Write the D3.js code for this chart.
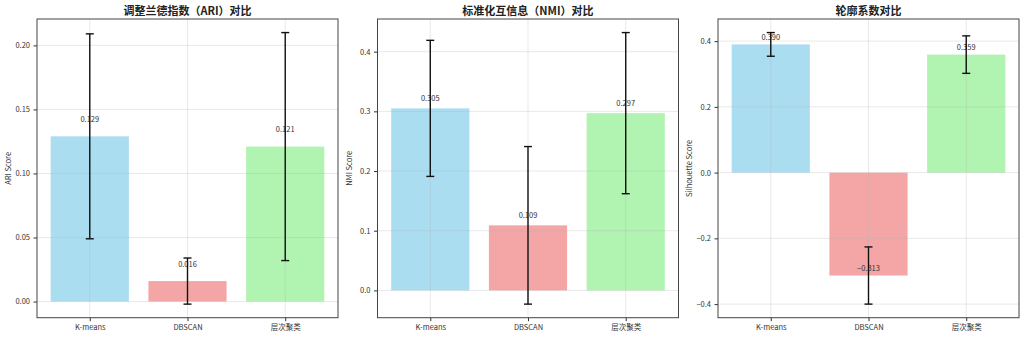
<!DOCTYPE html>
<html>
<head>
<meta charset="utf-8">
<script src="https://cdn.jsdelivr.net/npm/d3@7"></script>
<style>
  html, body { margin: 0; padding: 0; background: #fff; }
  svg { display: block; }
  text { font-family: "Noto Sans CJK SC", "DejaVu Sans", sans-serif; }
</style>
</head>
<body>
<svg id="chart" width="1024" height="337"></svg>
<script>
// Clustering methods compared in every panel
const categories = ["K-means", "DBSCAN", "层次聚类"];
const barColors = ["#87CEEB", "#F08080", "#90EE90"];

// Adjusted Rand Index: mean and standard deviation per method
const ariMean = [0.129, 0.016, 0.121];
const ariStd  = [0.080, 0.018, 0.089];

// Normalized Mutual Information
const nmiMean = [0.305, 0.109, 0.297];
const nmiStd  = [0.114, 0.132, 0.135];

// Silhouette coefficient
const silMean = [0.390, -0.313, 0.359];
const silStd  = [0.036, 0.087, 0.057];

// Y tick labels per panel
const ariTicks = [0.00, 0.05, 0.10, 0.15, 0.20];
const nmiTicks = [0.0, 0.1, 0.2, 0.3, 0.4];
const silTicks = [-0.4, -0.2, 0.0, 0.2, 0.4];

const panels = [
  { title: "调整兰德指数（ARI）对比", ylabel: "ARI Score", mean: ariMean, std: ariStd, ticks: ariTicks, fmt: ".2f", left: 37 },
  { title: "标准化互信息（NMI）对比", ylabel: "NMI Score", mean: nmiMean, std: nmiStd, ticks: nmiTicks, fmt: ".1f", left: 377.5 },
  { title: "轮廓系数对比", ylabel: "Silhouette Score", mean: silMean, std: silStd, ticks: silTicks, fmt: ".1f", left: 718 }
];

const svg = d3.select("#chart");
const panelW = 301, plotTop = 19, plotBottom = 317.7;
const minus = s => s.replace("-", "−");

panels.forEach(p => {
  const g = svg.append("g").attr("transform", `translate(${p.left},0)`);

  // x: categories at 0,1,2 with bars 0.8 wide and 5% margins
  const x = d3.scaleLinear().domain([-0.54, 2.54]).range([0, panelW]);

  // y: data extent (bars and error bars) padded by 5%
  const lo = d3.min(p.mean.map((m, i) => Math.min(0, m - p.std[i])));
  const hi = d3.max(p.mean.map((m, i) => Math.max(0, m + p.std[i])));
  const pad = (hi - lo) * 0.05;
  const y = d3.scaleLinear().domain([lo - pad, hi + pad]).range([plotBottom, plotTop]);

  const tickFmt = v => minus(d3.format(p.fmt)(v));

  // bars
  g.selectAll("rect.bar").data(p.mean).join("rect")
    .attr("class", "bar")
    .attr("x", (d, i) => x(i - 0.4))
    .attr("width", x(0.8) - x(0))
    .attr("y", d => y(Math.max(0, d)))
    .attr("height", d => Math.abs(y(d) - y(0)))
    .attr("fill", (d, i) => barColors[i])
    .attr("fill-opacity", 0.7);

  // grid
  const grid = g.append("g").attr("stroke", "#b0b0b0").attr("stroke-opacity", 0.35).attr("stroke-width", 0.8);
  grid.selectAll("line.h").data(p.ticks).join("line")
    .attr("class", "h")
    .attr("x1", 0).attr("x2", panelW)
    .attr("y1", d => y(d)).attr("y2", d => y(d));
  grid.selectAll("line.v").data(categories).join("line")
    .attr("class", "v")
    .attr("x1", (d, i) => x(i)).attr("x2", (d, i) => x(i))
    .attr("y1", plotTop).attr("y2", plotBottom);

  // value labels just above each bar's value
  g.selectAll("text.val").data(p.mean).join("text")
    .attr("class", "val")
    .attr("x", (d, i) => x(i))
    .attr("y", d => y(d + 0.01) - 1.5)
    .attr("text-anchor", "middle")
    .attr("font-size", 7.5)
    .attr("fill", "#333")
    .text(d => minus(d3.format(".3f")(d)));

  // error bars
  const eb = g.append("g").attr("stroke", "#111").attr("stroke-width", 1.4);
  p.mean.forEach((m, i) => {
    const cx = x(i), y1 = y(m - p.std[i]), y2 = y(m + p.std[i]);
    eb.append("line").attr("x1", cx).attr("x2", cx).attr("y1", y1).attr("y2", y2);
    eb.append("line").attr("x1", cx - 4).attr("x2", cx + 4).attr("y1", y1).attr("y2", y1);
    eb.append("line").attr("x1", cx - 4).attr("x2", cx + 4).attr("y1", y2).attr("y2", y2);
  });

  // axes
  const yAxis = d3.axisLeft(y).tickValues(p.ticks).tickFormat(tickFmt).tickSize(3.5).tickPadding(3.5);
  const ya = g.append("g").call(yAxis);
  ya.select(".domain").remove();
  ya.selectAll("line").attr("stroke", "#333");
  ya.selectAll("text").attr("font-size", 7.5).attr("fill", "#333");

  const xAxis = d3.axisBottom(x).tickValues([0, 1, 2]).tickFormat(i => categories[i]).tickSize(3.5).tickPadding(3.5);
  const xa = g.append("g").attr("transform", `translate(0,${plotBottom})`).call(xAxis);
  xa.select(".domain").remove();
  xa.selectAll("line").attr("stroke", "#333");
  xa.selectAll("text").attr("font-size", 7.5).attr("fill", "#333");

  // frame
  g.append("rect").attr("x", 0).attr("y", plotTop).attr("width", panelW).attr("height", plotBottom - plotTop)
    .attr("fill", "none").attr("stroke", "#444").attr("stroke-width", 1);

  // title
  g.append("text").attr("x", panelW / 2).attr("y", 15)
    .attr("text-anchor", "middle").attr("font-size", 11).attr("font-weight", 600).attr("fill", "#222")
    .text(p.title);

  // y label
  g.append("text")
    .attr("transform", `translate(-26,${(plotTop + plotBottom) / 2}) rotate(-90)`)
    .attr("text-anchor", "middle").attr("font-size", 7.5).attr("fill", "#333")
    .text(p.ylabel);
});
</script>
</body>
</html>
